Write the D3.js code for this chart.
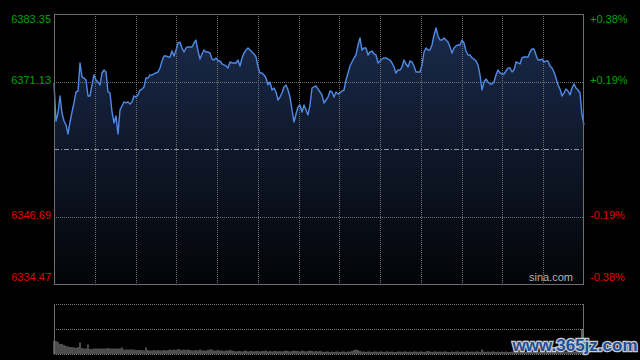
<!DOCTYPE html>
<html><head><meta charset="utf-8">
<script src="https://cdn.jsdelivr.net/npm/d3@7/dist/d3.min.js"></script>
<style>html,body{margin:0;padding:0;background:#000;}svg{display:block;}</style>
</head><body>
<svg id="chart" width="640" height="360"></svg>
<script>
const prices = [6370.86,6363.98,6365.43,6368.51,6365.43,6363.98,6363.26,6361.63,6363.80,6365.61,
6367.24,6369.23,6369.41,6374.48,6371.95,6371.76,6371.40,6368.51,6368.51,6370.50,
6372.31,6371.40,6371.04,6370.50,6372.67,6373.21,6372.85,6369.23,6369.05,6365.61,
6363.62,6364.89,6361.63,6365.97,6366.70,6367.42,6367.24,6367.42,6367.06,6367.42,
6368.51,6368.32,6368.69,6369.59,6369.77,6370.14,6371.76,6371.76,6372.31,6372.31,
6372.49,6372.67,6372.85,6373.57,6374.84,6375.75,6375.75,6375.57,6375.57,6376.65,
6375.75,6376.83,6378.10,6378.28,6377.20,6376.47,6377.20,6377.38,6377.38,6377.38,
6378.10,6378.64,6376.65,6375.20,6376.11,6376.83,6376.47,6376.47,6376.29,6375.20,
6375.02,6375.39,6374.84,6374.84,6374.30,6374.12,6373.94,6373.57,6374.66,6374.48,
6374.48,6374.48,6375.02,6373.94,6375.39,6376.29,6376.83,6377.20,6376.83,6376.47,
6376.11,6375.57,6373.76,6372.67,6372.67,6372.31,6371.76,6370.50,6371.04,6369.59,
6369.95,6369.23,6367.78,6368.32,6369.05,6370.14,6370.50,6369.59,6368.32,6365.97,
6363.80,6365.25,6366.51,6366.88,6365.61,6366.88,6365.97,6365.07,6366.88,6369.95,
6370.14,6370.32,6369.77,6369.23,6368.69,6367.24,6367.78,6368.32,6369.41,6369.23,
6368.32,6369.23,6368.87,6369.05,6369.41,6369.59,6371.40,6372.67,6373.94,6374.66,
6375.39,6375.93,6377.74,6379.01,6376.83,6377.20,6377.20,6375.93,6376.47,6376.65,
6376.11,6375.93,6374.48,6374.84,6375.20,6375.39,6375.39,6375.20,6375.02,6374.48,
6373.76,6372.67,6373.21,6373.21,6373.76,6375.02,6374.30,6373.76,6374.84,6374.66,
6373.94,6372.85,6372.85,6372.85,6374.12,6376.47,6377.20,6376.83,6376.83,6377.74,
6379.55,6380.82,6379.37,6378.64,6378.64,6379.01,6378.64,6378.28,6377.38,6376.29,
6377.20,6377.56,6377.74,6377.74,6378.64,6378.10,6376.65,6375.93,6375.93,6375.39,
6375.20,6374.84,6374.12,6372.31,6369.59,6371.04,6371.58,6371.04,6370.68,6370.68,
6371.04,6372.31,6373.21,6372.67,6372.49,6372.49,6373.03,6373.57,6373.57,6372.85,
6373.21,6374.66,6374.48,6374.30,6375.39,6375.57,6375.57,6375.57,6376.47,6377.01,
6377.01,6375.93,6375.02,6375.02,6375.20,6374.66,6374.84,6374.84,6373.94,6373.57,
6372.85,6371.76,6370.50,6369.77,6368.51,6369.05,6369.77,6369.41,6368.69,6369.95,
6370.68,6369.95,6369.59,6369.05,6365.07,6363.26];

const volumes = [26,26,24,20,20,18,16,15,14,14,13,12,14,23,12,11,11,19,10,10,
11,11,11,11,11,11,11,12,11,11,11,11,11,11,13,9,9,9,9,9,9,8,8,8,8,7,13,8,7,
7,8,7,8,7,7,8,7,8,
9,8,9,8,10,9,8,9,8,9,8,
7,7,8,7,9,7,7,7,8,9,9,7,7,8,7,7,6,7,7,8,7,
6,5,6,6,5,6,7,5,6,6,5,6,6,5,6,6,7,5,6,5,6,6,5,6,5,6,7,6,5,6,7,6,6,5,7,6,5,6,7,6,5,6,5,6,
5,4,5,5,4,5,4,5,5,4,
5,5,4,5,5,6,8,9,8,6,
5,5,4,5,5,4,5,5,4,5,
5,4,5,5,4,5,4,4,5,5,
4,5,5,4,5,4,5,5,4,5,
5,4,5,6,5,4,5,5,4,5,
4,5,5,4,4,5,4,5,5,4,
5,4,5,5,4,5,4,5,5,4,
9,5,4,5,4,5,5,4,5,4,
5,4,5,4,4,5,4,5,4,5,
4,5,4,5,5,4,5,4,5,5,
4,5,4,4,5,4,5,5,4,5,
5,4,5,6,5,5,4,6,5,6,
50,6];

const prevClose = 6358.91;
const priceMin = 6334.47, priceMax = 6383.35;
const leftLabels = ["6383.35","6371.13","6346.69","6334.47"];
const labelValues = [6383.35, 6371.13, 6346.69, 6334.47];
const rightLabels = ["+0.38%","+0.19%","-0.19%","-0.38%"];
const timeDivisions = 13;
const volumeMax = 100;

const svg = d3.select("#chart");
const L = 54, R = 584, T = 14, B = 284;
const VT = 304, VB = 354;

const x = d3.scaleLinear().domain([0, prices.length - 1]).range([L, R]);
const y = d3.scaleLinear().domain([priceMin, priceMax]).range([B, T]);
const yv = d3.scaleLinear().domain([0, volumeMax]).range([VB, VT]);

svg.append("rect").attr("width", 640).attr("height", 360).attr("fill", "#000");

const defs = svg.append("defs");
const grad = defs.append("linearGradient").attr("id", "fillGrad")
  .attr("gradientUnits", "userSpaceOnUse").attr("x1", 0).attr("x2", 0).attr("y1", T).attr("y2", B);
grad.append("stop").attr("offset", "0%").attr("stop-color", "#1b2c4e");
grad.append("stop").attr("offset", "100%").attr("stop-color", "#030407");

// area
svg.append("path").datum(prices)
  .attr("d", d3.area().x((d, i) => x(i)).y0(B).y1(d => y(d)))
  .attr("fill", "url(#fillGrad)");

// grid
const gridColor = "#707070";
const hLines = [6371.13, 6346.69];
svg.append("g").selectAll("line").data(hLines).join("line")
  .attr("x1", L).attr("x2", R)
  .attr("y1", d => Math.round(y(d)) + 0.5).attr("y2", d => Math.round(y(d)) + 0.5)
  .attr("stroke", gridColor).attr("stroke-width", 1).attr("stroke-dasharray", "1,1");
const vIdx = d3.range(1, timeDivisions).map(k => k * (prices.length - 1) / timeDivisions);
svg.append("g").selectAll("line").data(vIdx).join("line")
  .attr("x1", d => Math.round(x(d)) + 0.5).attr("x2", d => Math.round(x(d)) + 0.5)
  .attr("y1", T).attr("y2", B)
  .attr("stroke", gridColor).attr("stroke-width", 1).attr("stroke-dasharray", "1,1");

// previous close line
svg.append("line").attr("x1", L).attr("x2", R)
  .attr("y1", Math.round(y(prevClose)) + 0.5).attr("y2", Math.round(y(prevClose)) + 0.5)
  .attr("stroke", "#8d99ab").attr("stroke-width", 1).attr("stroke-dasharray", "5,2,1,2");

// price line
svg.append("path").datum(prices)
  .attr("d", d3.line().x((d, i) => x(i)).y(d => y(d)))
  .attr("fill", "none").attr("stroke", "#4f8be6").attr("stroke-width", 1.4)
  .attr("stroke-linejoin", "round");

// border
svg.append("rect").attr("x", L + 0.5).attr("y", T + 0.5).attr("width", R - L - 1).attr("height", B - T)
  .attr("fill", "none").attr("stroke", "#6e6e6e").attr("stroke-width", 1);

// labels
const font = "'Liberation Sans', Arial, sans-serif";
const labelY = v => v === priceMax ? y(v) + 6 : (v === priceMin ? y(v) - 6 : y(v));
svg.append("g").selectAll("text").data(labelValues).join("text")
  .attr("x", 51).attr("y", d => labelY(d)).attr("text-anchor", "end")
  .attr("dominant-baseline", "middle").attr("font-family", font).attr("font-size", 11)
  .attr("fill", d => d > prevClose ? "#00a400" : "#e00000")
  .text((d, i) => leftLabels[i]);
svg.append("g").selectAll("text").data(labelValues).join("text")
  .attr("x", 590).attr("y", d => labelY(d)).attr("text-anchor", "start")
  .attr("dominant-baseline", "middle").attr("font-family", font).attr("font-size", 11)
  .attr("fill", d => d > prevClose ? "#00a400" : "#e00000")
  .text((d, i) => rightLabels[i]);

svg.append("text").attr("x", 573).attr("y", 278).attr("text-anchor", "end")
  .attr("dominant-baseline", "middle").attr("font-family", font).attr("font-size", 11)
  .attr("fill", "#b4b4b4").text("sina.com");

// volume panel
[VT, (VT + VB) / 2, VB].forEach(v => {
  svg.append("line").attr("x1", L).attr("x2", R).attr("y1", Math.round(v) + 0.5).attr("y2", Math.round(v) + 0.5)
    .attr("stroke", "#7a7a7a").attr("stroke-dasharray", "1,1");
});
svg.append("g").selectAll("rect").data(volumes).join("rect")
  .attr("x", (d, i) => x(i) - 0.6).attr("width", 1.2)
  .attr("y", d => yv(d)).attr("height", d => VB - yv(d))
  .attr("fill", (d, i) => i === volumes.length - 2 ? "#a8a8a8" : "#808080");
svg.append("line").attr("x1", L + 0.5).attr("x2", L + 0.5).attr("y1", VT).attr("y2", VB + 1)
  .attr("stroke", "#6e6e6e");
svg.append("line").attr("x1", R - 0.5).attr("x2", R - 0.5).attr("y1", VT).attr("y2", VB + 1)
  .attr("stroke", "#6e6e6e");

// watermark
svg.append("text").attr("x", 575).attr("y", 351).attr("text-anchor", "middle")
  .attr("font-family", font).attr("font-size", 17).attr("font-weight", "bold")
  .attr("fill", "#1f4f96").attr("stroke", "#c8ccd4").attr("stroke-width", 2.5)
  .attr("paint-order", "stroke").text("www.365jz.com");
</script>
</body></html>
